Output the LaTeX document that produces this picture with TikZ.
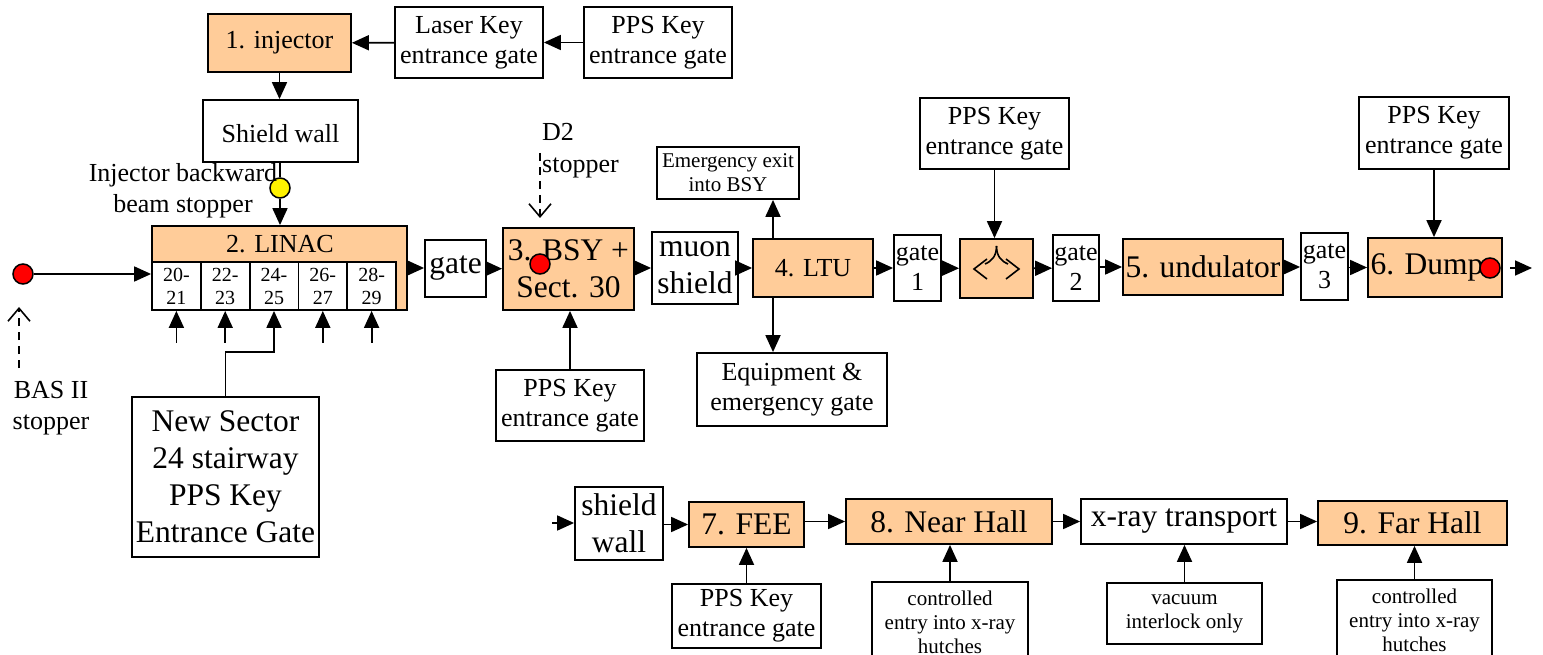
\documentclass[tikz,border=0pt]{standalone}
\usepackage{fontspec}
\setmainfont{Liberation Serif}
\usetikzlibrary{arrows.meta}
\definecolor{peach}{RGB}{255,204,153}
\newcommand\ppsgate{PPS Key\\entrance gate}
\tikzset{
  box/.style={draw, line width=1.8pt, inner sep=0pt, align=center, font=\fontsize{26}{30}\selectfont},
  area/.style={box, fill=peach},
  big/.style={font=\fontsize{31.5}{37}\selectfont},
  small/.style={font=\fontsize{21}{24}\selectfont},
  txt/.style={inner sep=0pt, align=center, font=\fontsize{26}{31}\selectfont},
  stopdot/.style={circle, draw, line width=1.5pt, inner sep=0pt, minimum size=20pt},
  flow/.style={line width=1.8pt, -{Triangle[length=17pt,width=15pt]}},
  hint/.style={line width=1.6pt, dash pattern=on 8pt off 6pt, -{Straight Barb[length=13pt,width=22pt]}}
}

\begin{document}
\begin{tikzpicture}[x=1pt,y=-1pt]
\useasboundingbox (0,0) rectangle (1543,655);
\node[area, minimum width=143pt, minimum height=58pt] (inj) at (279.5,43) {1. injector};
\node[box, minimum width=148pt, minimum height=71pt] (laser) at (469,42.5) {Laser Key\\entrance gate};
\node[box, minimum width=148pt, minimum height=71pt] (ppsA) at (658,42.5) {\ppsgate};
\node[box, minimum width=155pt, minimum height=62pt, text height=24pt] (shield) at (280.5,131) {Shield wall};
\node[stopdot, fill=yellow] (stopY) at (280,188) {};
\node[txt] (bwd) at (183,191) {Injector backward\\beam stopper};
\node[area, minimum width=255pt, minimum height=84pt] (linac) at (279.5,268) {};
\node[txt] (linacT) at (280,244) {2. LINAC};
\foreach \a/\b [count=\i] in {20/21,22/23,24/25,26/27,28/29}
  \node[box, fill=white, font=\fontsize{20}{23}\selectfont, minimum width=48.8pt, minimum height=48pt] (c\i) at ({127.6+\i*48.8},286) {\a-\\\b};
\node[stopdot, fill=red] (stopL) at (23,274) {};
\node[txt] (bas) at (51,408) {BAS II\\stopper};
\node[box, big, minimum width=187pt, minimum height=160pt] (newsec) at (225.5,477) {New Sector\\24 stairway\\PPS Key\\Entrance Gate};

\node[box, big, minimum width=61pt, minimum height=57pt] (gateA) at (455.5,268.5) {gate};
\node[area, big, minimum width=131pt, minimum height=82pt] (bsy) at (568.5,269) {3. BSY +\\Sect. 30};
\node[stopdot, fill=red] (stopB) at (540,264) {};
\node[txt, anchor=west, align=left, font=\fontsize{26}{32}\selectfont] (dtwo) at (542,151) {D2\\stopper};
\node[box, minimum width=148pt, minimum height=71pt] (ppsB) at (570,405.5) {\ppsgate};
\node[box, big, minimum width=86pt, minimum height=72pt] (muon) at (695,268) {muon\\shield};
\node[area, minimum width=120pt, minimum height=58pt] (ltu) at (813,268) {4. LTU};
\node[box, small, minimum width=142pt, minimum height=52pt] (emerg) at (728,173) {Emergency exit\\into BSY};
\node[box, minimum width=190pt, minimum height=73pt] (equip) at (792,389.5) {Equipment \&\\emergency gate};
\node[box, minimum width=47pt, minimum height=66pt] (gateB) at (917.5,268) {gate\\1};
\node[area, minimum width=73pt, minimum height=59pt] (split) at (996.5,268.5) {};
\node[box, minimum width=149pt, minimum height=71pt] (ppsC) at (994.5,133.5) {\ppsgate};
\node[box, minimum width=46pt, minimum height=66pt] (gateC) at (1076,268) {gate\\2};
\node[area, big, minimum width=160pt, minimum height=56pt] (und) at (1203,267) {5. undulator};
\node[box, minimum width=47pt, minimum height=67pt] (gateD) at (1324.5,266.5) {gate\\3};
\node[area, big, minimum width=134pt, minimum height=59pt] (dump) at (1435,267.5) {6. Dump\hspace{16pt}};
\node[stopdot, fill=red] (stopC) at (1490,268) {};
\node[box, minimum width=150pt, minimum height=72pt] (ppsD) at (1434,133) {\ppsgate};

\node[box, big, minimum width=88pt, minimum height=73pt] (swall) at (619,523.5) {shield\\wall};
\node[area, big, minimum width=115pt, minimum height=45pt] (fee) at (746.5,524.5) {7. FEE};
\node[area, big, minimum width=206pt, minimum height=45pt] (near) at (949,521.5) {8. Near Hall};
\node[box, big, minimum width=206pt, minimum height=45pt] (xray) at (1184,521.5) {x-ray transport};
\node[area, big, minimum width=189pt, minimum height=44pt] (far) at (1412.5,523) {9. Far Hall};
\node[box, minimum width=149pt, minimum height=64pt] (ppsE) at (746.5,616) {\ppsgate};
\node[box, small, minimum width=156pt, minimum height=80pt] (ctrlA) at (950,622) {controlled\\entry into x-ray\\hutches};
\node[box, small, minimum width=155pt, minimum height=61pt] (vac) at (1184.5,613.5) {vacuum\\interlock only};
\node[box, small, minimum width=155pt, minimum height=80pt] (ctrlB) at (1414.5,620) {controlled\\entry into x-ray\\hutches};

\coordinate (basTail) at (19,368);
\coordinate (basTip) at (19,307);
\coordinate (dTail) at (540,153);
\coordinate (dTip) at (540,218);
\coordinate (outA) at (1510,268);
\coordinate (outB) at (1532,268);
\coordinate (inA) at (552,523);

\draw[flow] (ppsA) -- (laser);
\draw[flow] (laser) -- (inj);
\draw[flow] (inj.south) -- (inj.south |- shield.north);
\draw[line width=1.8pt] (shield.south -| stopY) -- (stopY.north);
\draw[flow] (stopY.south) -- (stopY.south |- linac.north);
\draw[flow] (stopL.east) -- (stopL.east -| linac.west);
\draw[hint] (basTail) -- (basTip);
\foreach \i in {1,2,4,5}
  \draw[flow] ([yshift=-32pt]c\i.south) -- (c\i.south);
\draw[flow] (newsec.north) -- ++(0,-44) -| (c3.south);
\draw[flow] (linac.east) -- (gateA.west |- linac.east);
\draw[flow] (gateA) -- (bsy);
\draw[hint] (dTail) -- (dTip);
\draw[flow] (ppsB.north) -- (ppsB.north |- bsy.south);
\draw[flow] (bsy.east |- muon) -- (muon);
\draw[flow] (muon) -- (ltu);
\draw[flow] ([xshift=-40pt]ltu.north) -- ([xshift=-40pt]ltu.north |- emerg.south);
\draw[flow] ([xshift=-40pt]ltu.south) -- ([xshift=-40pt]ltu.south |- equip.north);
\draw[flow] (ltu) -- (gateB);
\draw[flow] (gateB) -- (split);
\draw[flow] (ppsC.south) -- (ppsC.south |- split.north);
\draw[flow] (split) -- (gateC);
\draw[flow] (gateC.east |- und) -- (und);
\draw[flow] (und) -- (gateD.west |- und);
\draw[flow] (gateD.east |- dump) -- (dump);
\draw[flow] (ppsD.south) -- (ppsD.south |- dump.north);
\draw[flow] (outA) -- (outB);
\draw[line width=1.6pt] (996.5,246) .. controls (996.5,256) and (992,261) .. (985,264);
\draw[line width=1.6pt] (996.5,246) .. controls (996.5,256) and (1001,261) .. (1008,264);
\draw[line width=1.6pt] (987,259) -- (974,269) -- (987,279);
\draw[line width=1.6pt] (1006,259) -- (1019,269) -- (1006,279);

\draw[flow] (inA) -- (inA -| swall.west);
\draw[flow] (swall.east |- fee) -- (fee);
\draw[flow] (fee.east |- near) -- (near);
\draw[flow] (near) -- (xray);
\draw[flow] (xray) -- (far.west |- xray);
\draw[flow] (ppsE.north) -- (ppsE.north |- fee.south);
\draw[flow] (ctrlA.north) -- (ctrlA.north |- near.south);
\draw[flow] (vac.north) -- (vac.north |- xray.south);
\draw[flow] (ctrlB.north) -- (ctrlB.north |- far.south);
\end{tikzpicture}
\end{document}
